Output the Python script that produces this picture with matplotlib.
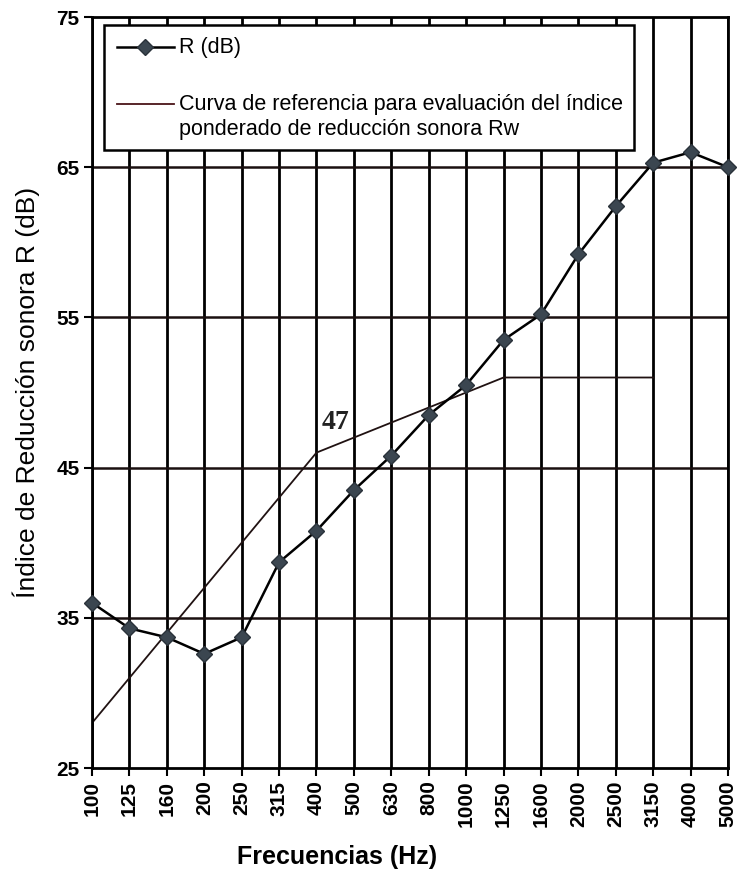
import matplotlib
matplotlib.use("Agg")
import matplotlib.pyplot as plt
from matplotlib.patches import Rectangle
from matplotlib.lines import Line2D

plt.rcParams['font.family'] = ['Liberation Sans', 'DejaVu Sans']

# datos
frecuencias = ['100', '125', '160', '200', '250', '315', '400', '500', '630',
               '800', '1000', '1250', '1600', '2000', '2500', '3150', '4000', '5000']
r_db = [36.0, 34.3, 33.7, 32.6, 33.7, 38.7, 40.8, 43.5, 45.8,
        48.5, 50.5, 53.5, 55.2, 59.2, 62.4, 65.3, 66.0, 65.0]
# curva de referencia ISO 717-1 desplazada (Rw = 47), 100 - 3150 Hz
curva_ref = [28, 31, 34, 37, 40, 43, 46, 47, 48, 49, 50, 51, 51, 51, 51, 51]
rw = 47
y_ticks = [25, 35, 45, 55, 65, 75]

fig = plt.figure(figsize=(7.47, 8.69), dpi=100)
ax = fig.add_axes([0.1232, 0.1162, 0.8514, 0.8642])

x = list(range(len(frecuencias)))
ax.set_xlim(0, len(frecuencias) - 1)
ax.set_ylim(25, 75)

# rejilla
for xi in x:
    ax.axvline(xi, color='black', lw=2.0, zorder=1)
for yv in y_ticks[1:-1]:
    ax.axhline(yv, color='#1a1010', lw=1.8, zorder=1)

ax.plot(x[:len(curva_ref)], curva_ref, color='#201212', lw=1.3, zorder=2)
ax.plot(x, r_db, color='black', lw=1.8, marker='D', markersize=8,
        markerfacecolor='#3b4650', markeredgecolor='#2a323a', zorder=6,
        clip_on=False)

ax.text(6.5, 48.0, str(rw), family='Liberation Serif', fontsize=20,
        fontweight='bold', color='#222222', ha='center', va='center', zorder=4)

ax.set_xticks(x)
ax.set_xticklabels(frecuencias, rotation=90, fontsize=15, fontweight='bold')
ax.set_yticks(y_ticks)
ax.set_yticklabels([str(v) for v in y_ticks], fontsize=15, fontweight='bold')
ax.tick_params(axis='both', direction='out', length=6, width=1.5, pad=3)

for s in ax.spines.values():
    s.set_linewidth(2.0)
    s.set_zorder(5)

ax.set_xlabel('Frecuencias (Hz)', fontsize=18, fontweight='bold')
ax.xaxis.set_label_coords(0.385, -0.103)
ax.set_ylabel('Índice de Reducción sonora R (dB)', fontsize=19, labelpad=12)

# leyenda dibujada a mano
t = ax.transAxes
ax.add_patch(Rectangle((0.0189, 0.823), 0.833, 0.1663, transform=t,
                       facecolor='white', edgecolor='black', lw=1.8, zorder=7))
ax.add_line(Line2D([0.0393, 0.129], [0.960, 0.960], transform=t, color='black',
                   lw=1.8, zorder=8))
ax.add_line(Line2D([0.084], [0.960], transform=t, color='black', lw=0,
                   marker='D', markersize=8, markerfacecolor='#3b4650',
                   markeredgecolor='#2a323a', zorder=8))
ax.text(0.137, 0.960, 'R (dB)', transform=t, fontsize=15.5, va='center',
        ha='left', zorder=8)
ax.add_line(Line2D([0.0393, 0.129], [0.884, 0.884], transform=t,
                   color='#4a1418', lw=1.3, zorder=8))
ax.text(0.137, 0.867,
        'Curva de referencia para evaluación del índice\n'
        'ponderado de reducción sonora Rw',
        transform=t, fontsize=15.5, va='center', ha='left',
        linespacing=1.2, zorder=8)

fig.savefig('out.png', dpi=100)
